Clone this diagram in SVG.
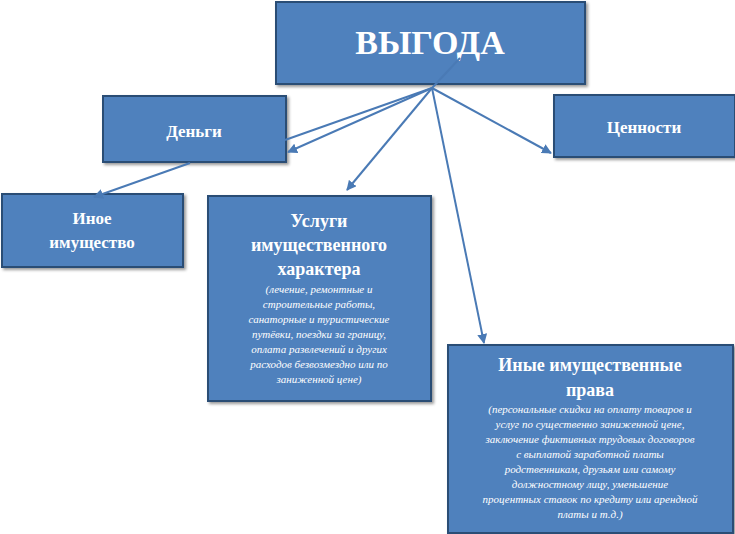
<svg xmlns="http://www.w3.org/2000/svg" width="735" height="534" viewBox="0 0 735 534">
<defs>
<marker id="ah" viewBox="0 0 10 10" refX="9" refY="5" markerWidth="5" markerHeight="5" orient="auto"><path d="M0,0 L10,5 L0,10 z" fill="#4a7ab5"/></marker>
<filter id="sh" x="-5%" y="-5%" width="115%" height="115%"><feDropShadow dx="2" dy="2" stdDeviation="1.5" flood-color="#000" flood-opacity="0.4"/></filter>
</defs>
<style>
.b{fill:#4f81bd;stroke:#2c4d75;stroke-width:2;filter:url(#sh)}
.t{font-family:"Liberation Serif",serif;font-weight:bold;fill:#fff;text-anchor:middle}
.s{font-family:"Liberation Serif",serif;font-style:italic;fill:#fff;text-anchor:middle;font-size:11px}
.c{stroke:#4a7ab5;stroke-width:2;fill:none}
</style>
<rect width="735" height="534" fill="#fff"/>
<g id="vygoda"><rect class="b" x="276" y="2" width="309" height="82"/><text class="t" x="430" y="54" font-size="34">ВЫГОДА</text></g>
<g id="dengi"><rect class="b" x="103" y="96" width="183" height="66"/><text class="t" x="194" y="137" font-size="17">Деньги</text></g>
<g id="tsennosti"><rect class="b" x="554" y="95" width="181" height="62"/><text class="t" x="644" y="133" font-size="17">Ценности</text></g>
<g id="inoe"><rect class="b" x="2" y="194" width="181" height="73"/><text class="t" x="92" y="224" font-size="17">Иное</text><text class="t" x="92" y="248" font-size="17">имущество</text></g>
<g id="uslugi"><rect class="b" x="208" y="196" width="223" height="205"/>
<text class="t" x="319" y="227" font-size="18">Услуги</text>
<text class="t" x="319" y="251" font-size="18">имущественного</text>
<text class="t" x="319" y="275" font-size="18">характера</text>
<text class="s" x="319" y="293">(лечение, ремонтные и</text>
<text class="s" x="319" y="308">строительные работы,</text>
<text class="s" x="319" y="323">санаторные и туристические</text>
<text class="s" x="319" y="338">путёвки, поездки за границу,</text>
<text class="s" x="319" y="353">оплата развлечений и других</text>
<text class="s" x="319" y="368">расходов безвозмездно или по</text>
<text class="s" x="319" y="383">заниженной цене)</text></g>
<g id="inye"><rect class="b" x="448" y="345" width="285" height="188"/>
<text class="t" x="590" y="371" font-size="18">Иные имущественные</text>
<text class="t" x="590" y="396" font-size="18">права</text>
<text class="s" x="590" y="413">(персональные скидки на оплату товаров и</text>
<text class="s" x="590" y="428">услуг по существенно заниженной цене,</text>
<text class="s" x="590" y="443">заключение фиктивных трудовых договоров</text>
<text class="s" x="590" y="458">с выплатой заработной платы</text>
<text class="s" x="590" y="473">родственникам, друзьям или самому</text>
<text class="s" x="590" y="488">должностному лицу, уменьшение</text>
<text class="s" x="590" y="503">процентных ставок по кредиту или арендной</text>
<text class="s" x="590" y="518">платы и т.д.)</text></g>
<g id="connectors">
<path class="c" d="M460,58 L432,88"/>
<path class="c" d="M432,88 L285,140"/>
<path class="c" d="M432,88 L288,152" marker-end="url(#ah)"/>
<path class="c" d="M432,88 L347,190" marker-end="url(#ah)"/>
<path class="c" d="M432,88 L484,343" marker-end="url(#ah)"/>
<path class="c" d="M432,88 L551,153" marker-end="url(#ah)"/>
<path class="c" d="M190,163 L94,197" marker-end="url(#ah)"/>
</g>
</svg>
